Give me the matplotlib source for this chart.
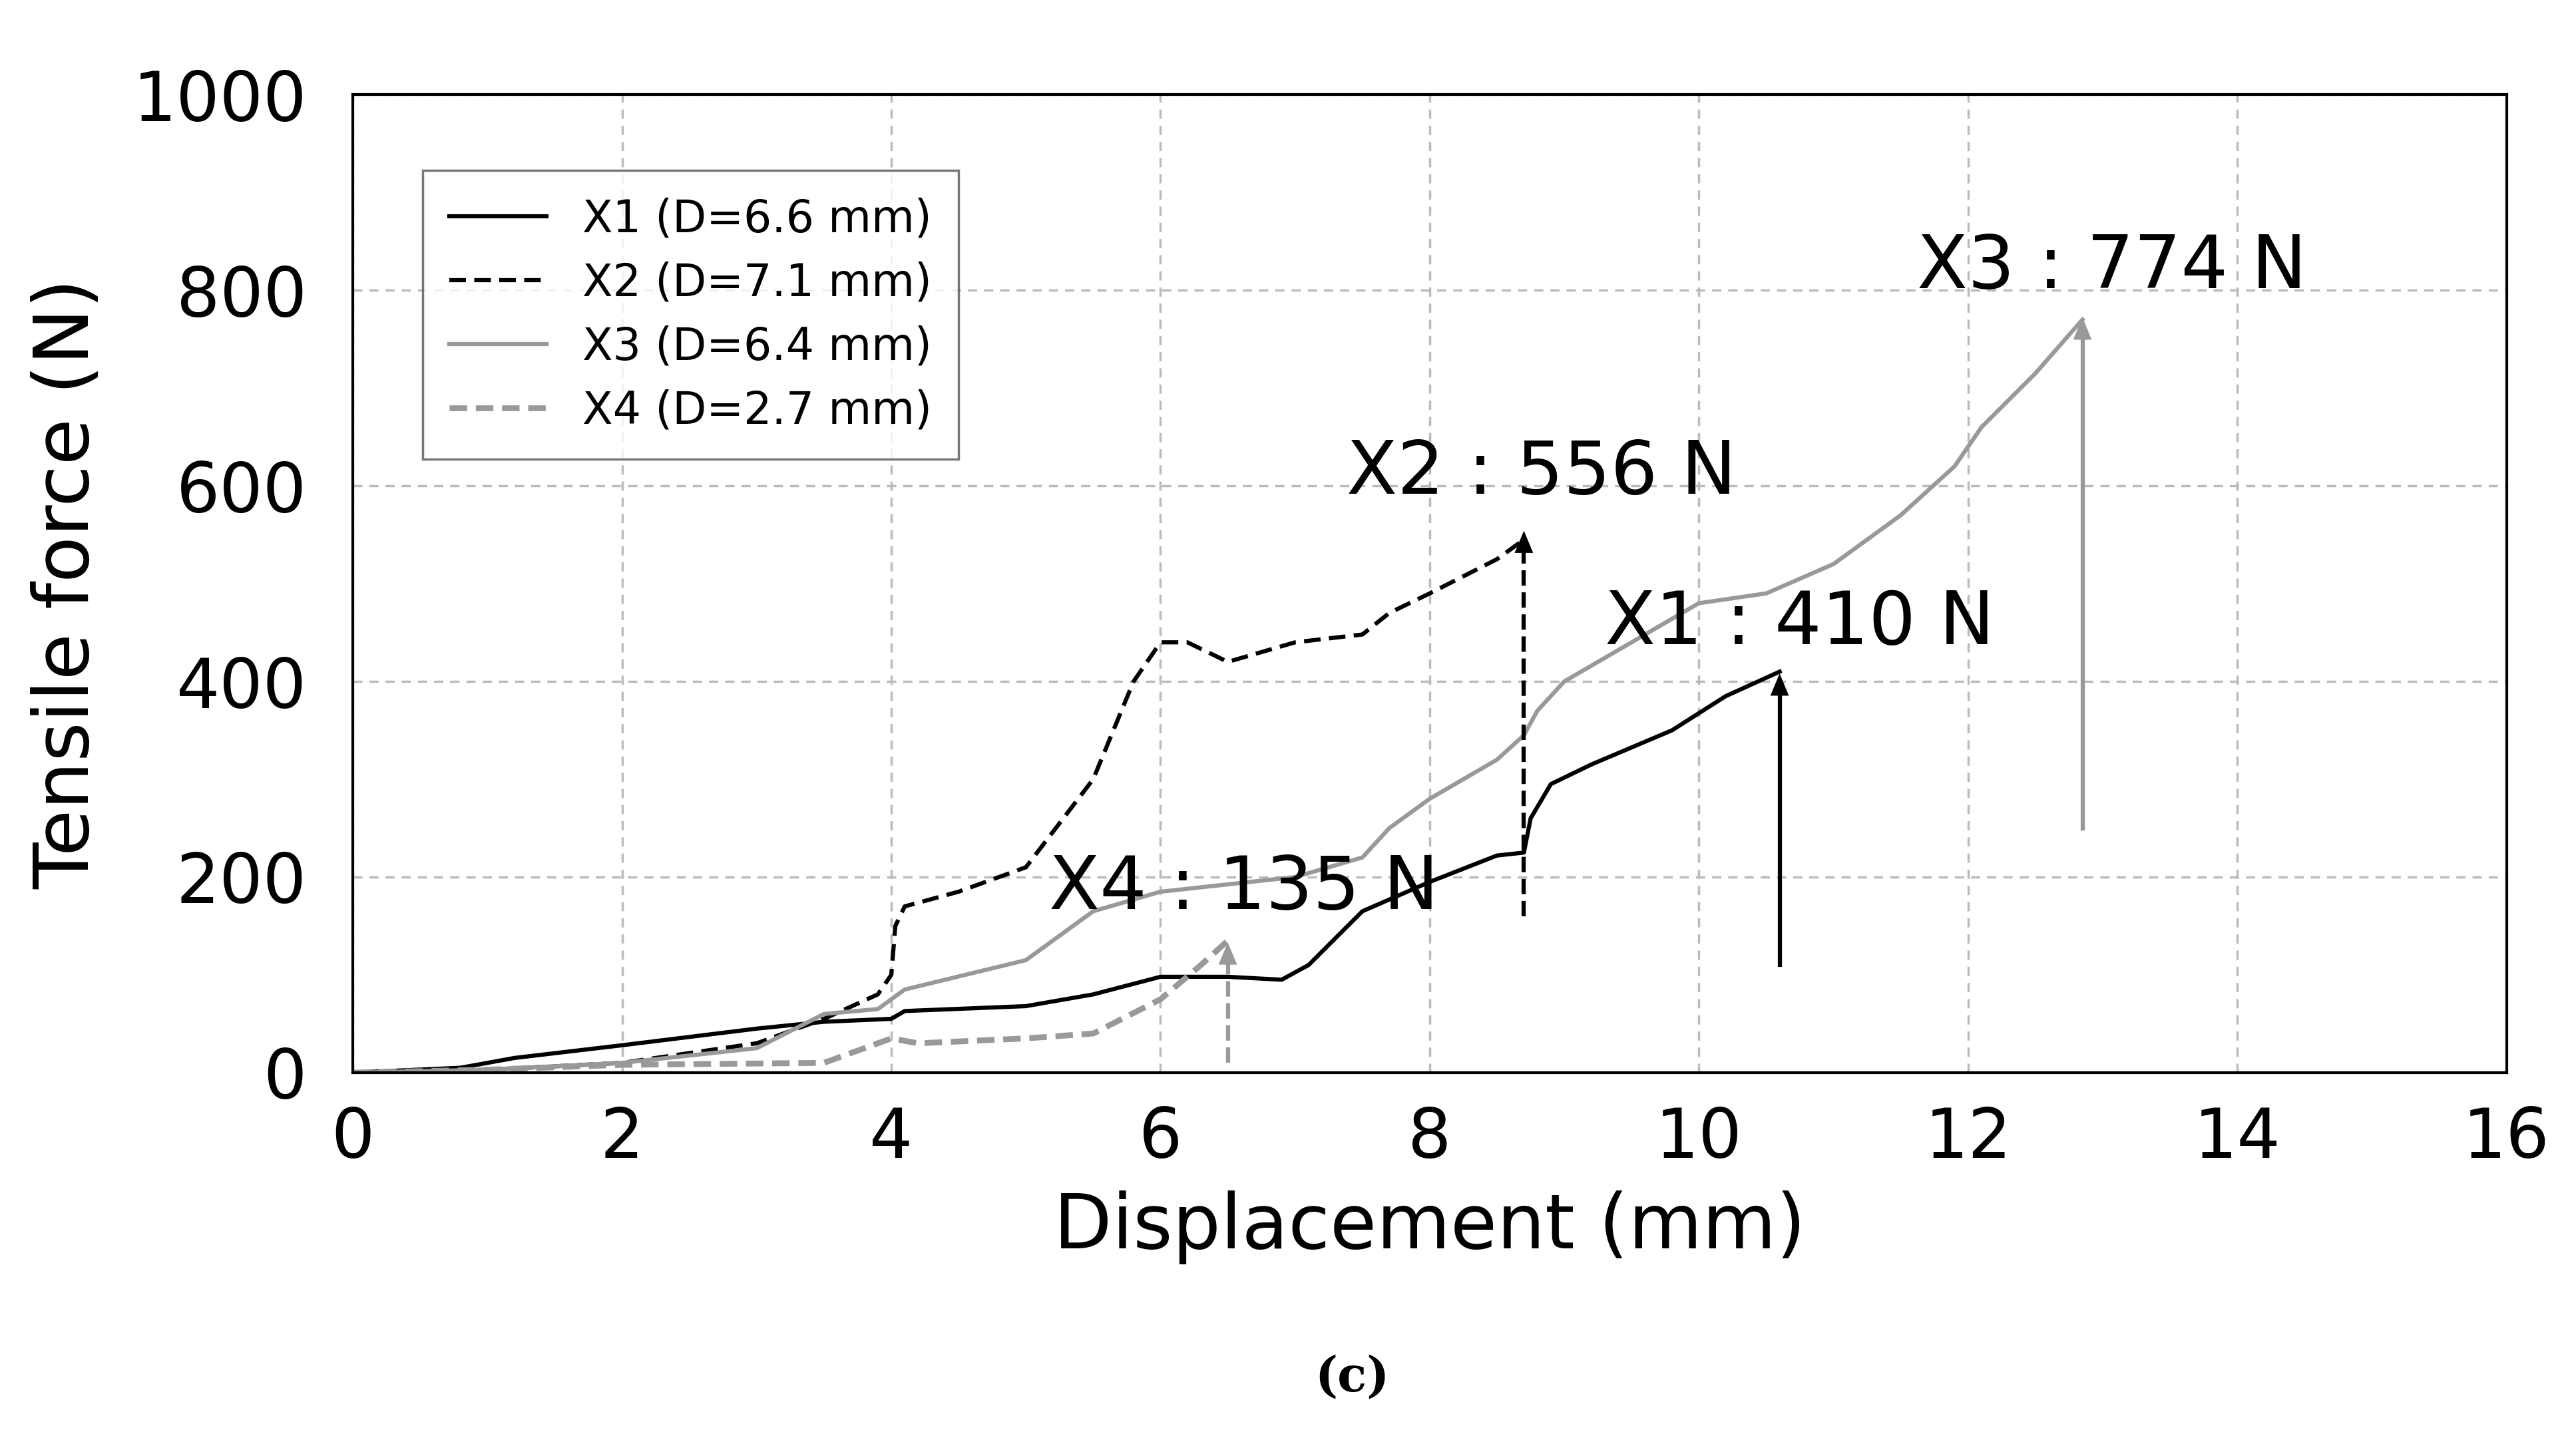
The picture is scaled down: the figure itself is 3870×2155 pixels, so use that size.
import matplotlib
matplotlib.use("Agg")
import matplotlib.pyplot as plt

x1 = [0,0.8,1.2,2,3,3.5,4,4.1,5,5.5,6,6.5,6.9,7.1,7.5,8,8.5,8.7,8.75,8.9,9.2,9.8,10.2,10.6]
y1 = [0,5,15,28,45,52,55,63,68,80,98,98,95,110,165,195,222,225,260,295,315,350,385,410]
x2 = [0,1,2,3,3.5,3.9,4,4.03,4.1,4.5,5,5.5,5.8,6,6.2,6.5,7,7.5,7.7,8,8.5,8.7]
y2 = [0,3,10,30,55,80,100,150,170,185,210,300,400,440,440,420,440,448,470,490,525,545]
x3 = [0,1,2,3,3.5,3.9,4.0,4.1,5,5.5,6,7,7.5,7.7,8,8.5,8.7,8.8,9,9.5,10,10.5,11,11.5,11.9,12.1,12.5,12.85]
y3 = [0,3,10,25,60,65,75,85,115,165,185,200,220,250,280,320,345,370,400,440,480,490,520,570,620,660,715,770]
x4 = [0,1,2,3.5,3.8,4,4.2,5,5.5,6,6.3,6.5]
y4 = [0,3,8,10,25,35,30,35,40,75,110,135]
labels = ["X1 (D=6.6 mm)","X2 (D=7.1 mm)","X3 (D=6.4 mm)","X4 (D=2.7 mm)"]
peaks = [("X1 : 410 N",10.6,110,410,10.75,459,"black","-"),
         ("X2 : 556 N",8.7,160,556,8.83,613,"black","--"),
         ("X3 : 774 N",12.85,250,774,13.07,823,"#999999","-"),
         ("X4 : 135 N",6.5,10,135,6.62,188,"#999999","--")]

plt.rcParams['font.family'] = ['DejaVu Sans']
fig = plt.figure(figsize=(38.7,21.55), dpi=100)
ax = fig.add_axes([0.137,0.252,0.836,0.682])
lw = 4.5
ax.plot(x1,y1,color='black',lw=lw,label=labels[0])
ax.plot(x2,y2,color='black',lw=lw,ls=(0,(4,2)),label=labels[1])
ax.plot(x3,y3,color='#999999',lw=lw,label=labels[2])
ax.plot(x4,y4,color='#999999',lw=lw*1.4,ls=(0,(3,1.5)),label=labels[3])
for t,x,yb,yt,tx,ty,c,ls in peaks:
    ax.plot([x,x],[yb,yt-15],color=c,lw=lw,ls=ls)
    ax.annotate("",xy=(x,yt),xytext=(x,yt-20),
                arrowprops=dict(arrowstyle='-|>,head_width=0.25,head_length=0.6',color=c,lw=0,mutation_scale=40))
    ax.text(tx,ty,t,fontsize=80,ha='center',va='center')
ax.set_xlim(0,16); ax.set_ylim(0,1000)
ax.set_xticks(range(0,17,2)); ax.set_yticks(range(0,1001,200))
ax.grid(True,ls=(0,(4,3)),color='#bbbbbb',lw=2.5)
ax.tick_params(labelsize=74,length=0)
ax.tick_params(axis='x',pad=35); ax.tick_params(axis='y',pad=50)
for s in ax.spines.values(): s.set_linewidth(3)
ax.set_xlabel("Displacement (mm)",fontsize=82,labelpad=20)
ax.set_ylabel("Tensile force (N)",fontsize=82,labelpad=30)
leg = ax.legend(loc='upper left',bbox_to_anchor=(0.022,0.945),fontsize=48,fancybox=False,
                edgecolor='#555555',handlelength=2.2,borderpad=0.6,labelspacing=0.45)
leg.get_frame().set_linewidth(2.5)
fig.text(0.525,0.03,"(c)",fontsize=52,fontweight='bold',family='DejaVu Serif',ha='center')
fig.savefig("out.png",dpi=100)
